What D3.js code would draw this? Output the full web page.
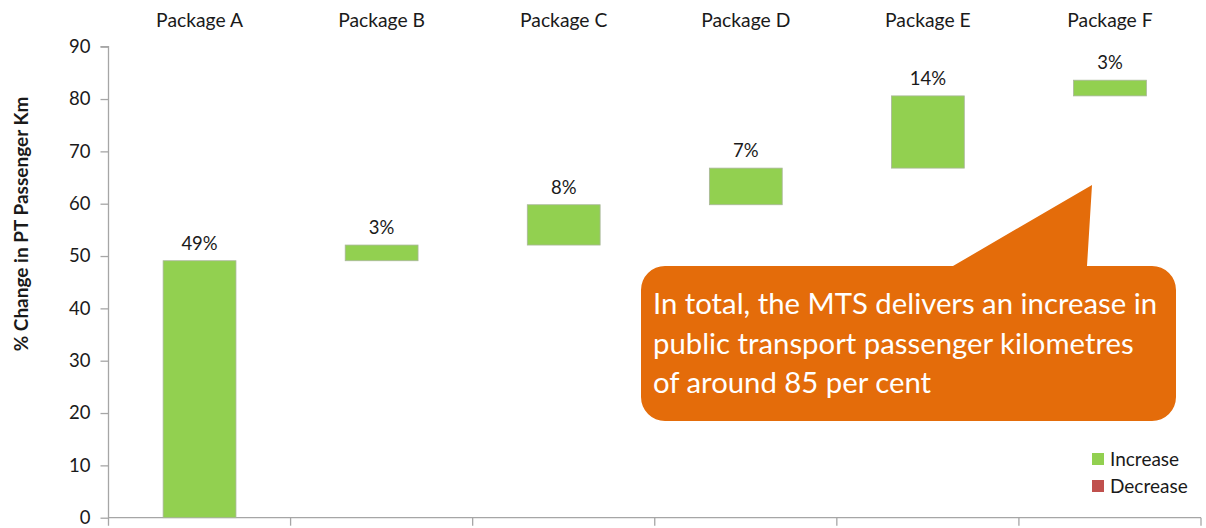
<!DOCTYPE html>
<html>
<head>
<meta charset="utf-8">
<script src="https://cdn.jsdelivr.net/npm/d3@7"></script>
<style>
  html, body { margin: 0; padding: 0; background: #fff; }
  svg { display: block; }
  text { font-family: Lato, "Open Sans", sans-serif; fill: #1a1a1a; }
</style>
</head>
<body>
<svg id="chart" width="1206" height="528"></svg>
<script>
// Waterfall: contribution of each package to the change in PT passenger km
const categories = ["Package A", "Package B", "Package C", "Package D", "Package E", "Package F"];
const increments = [49.1, 3.0, 7.7, 7.0, 13.8, 3.0];
const yTickValues = [0, 10, 20, 30, 40, 50, 60, 70, 80, 90];
const legendLabels = ["Increase", "Decrease"];
const legendColors = ["#92D050", "#C0504D"];
const axisTitle = "% Change in PT Passenger Km";
const calloutLines = [
  "In total, the MTS delivers an increase in",
  "public transport passenger kilometres",
  "of around 85 per cent"
];

const svg = d3.select("#chart");
const plot = { left: 108.5, right: 1201, top: 46.7, bottom: 517.7 };

const x = d3.scaleBand()
  .domain(categories)
  .range([plot.left, plot.right])
  .paddingInner(0.6)
  .paddingOuter(0.3);

const y = d3.scaleLinear()
  .domain([0, 90])
  .range([plot.bottom, plot.top]);

// running totals: each bar spans from previous total to new total
const ends = Array.from(d3.cumsum(increments));
const bars = categories.map((c, i) => ({
  cat: c,
  delta: increments[i],
  start: i === 0 ? 0 : ends[i - 1],
  end: ends[i]
}));

const axisColor = "#a6a6a6";

// y axis
const yAxis = svg.append("g")
  .attr("transform", `translate(${plot.left},0)`)
  .call(d3.axisLeft(y).tickValues(yTickValues).tickSize(8).tickPadding(10).tickFormat(d3.format("d")));
yAxis.select(".domain").attr("stroke", axisColor).attr("stroke-width", 1.3)
  .attr("d", `M0,${plot.bottom + 8}V${plot.top}H-8`);
yAxis.selectAll(".tick line").attr("stroke", axisColor).attr("stroke-width", 1.3);
yAxis.selectAll(".tick text")
  .style("font-size", "18.5px").attr("fill", "#1a1a1a");

// x axis line with ticks between categories
const step = x.step();
const boundaries = d3.range(categories.length + 1).map(i => plot.left + i * step);
svg.append("line")
  .attr("x1", plot.left).attr("x2", plot.right)
  .attr("y1", y(0)).attr("y2", y(0))
  .attr("stroke", axisColor).attr("stroke-width", 1.3);
svg.append("g").selectAll("line")
  .data(boundaries.slice(1))
  .join("line")
  .attr("x1", d => d).attr("x2", d => d)
  .attr("y1", y(0)).attr("y2", y(0) + 8)
  .attr("stroke", axisColor).attr("stroke-width", 1.3);

// category labels along the top
svg.append("g").selectAll("text")
  .data(categories)
  .join("text")
  .attr("x", d => x(d) + x.bandwidth() / 2)
  .attr("y", 27)
  .attr("text-anchor", "middle")
  .style("font-size", "19.3px")
  .text(d => d);

// y axis title
svg.append("text")
  .attr("transform", "translate(28,224) rotate(-90)")
  .attr("text-anchor", "middle")
  .style("font-size", "19px")
  .style("font-weight", "bold")
  .text(axisTitle);

// bars
svg.append("g").selectAll("rect")
  .data(bars)
  .join("rect")
  .attr("x", d => x(d.cat))
  .attr("width", x.bandwidth())
  .attr("y", d => y(Math.max(d.start, d.end)))
  .attr("height", d => Math.abs(y(d.start) - y(d.end)))
  .attr("fill", d => d.delta >= 0 ? legendColors[0] : legendColors[1])
  .attr("stroke", "#a9b69a")
  .attr("stroke-width", 0.8);

// value labels
svg.append("g").selectAll("text")
  .data(bars)
  .join("text")
  .attr("x", d => x(d.cat) + x.bandwidth() / 2)
  .attr("y", d => y(Math.max(d.start, d.end)) - 11)
  .attr("text-anchor", "middle")
  .style("font-size", "18.5px")
  .text(d => Math.round(d.delta) + "%");

// callout bubble
const cb = { x0: 641, y0: 266, x1: 1176, y1: 421, r: 24 };
const ptr = { baseL: 953, baseR: 1087, tipX: 1092, tipY: 185 };
const calloutPath = [
  `M${cb.x0 + cb.r},${cb.y0}`,
  `L${ptr.baseL},${cb.y0}`,
  `L${ptr.tipX},${ptr.tipY}`,
  `L${ptr.baseR},${cb.y0}`,
  `L${cb.x1 - cb.r},${cb.y0}`,
  `A${cb.r},${cb.r} 0 0 1 ${cb.x1},${cb.y0 + cb.r}`,
  `L${cb.x1},${cb.y1 - cb.r}`,
  `A${cb.r},${cb.r} 0 0 1 ${cb.x1 - cb.r},${cb.y1}`,
  `L${cb.x0 + cb.r},${cb.y1}`,
  `A${cb.r},${cb.r} 0 0 1 ${cb.x0},${cb.y1 - cb.r}`,
  `L${cb.x0},${cb.y0 + cb.r}`,
  `A${cb.r},${cb.r} 0 0 1 ${cb.x0 + cb.r},${cb.y0}`,
  "Z"
].join(" ");
svg.append("path").attr("d", calloutPath).attr("fill", "#E46C0A");

svg.append("g").selectAll("text")
  .data(calloutLines)
  .join("text")
  .attr("x", 653)
  .attr("y", (d, i) => 314 + i * 39.5)
  .style("font-size", "29.3px")
  .style("fill", "#ffffff")
  .text(d => d);

// legend
const legend = svg.append("g").selectAll("g")
  .data(legendLabels)
  .join("g")
  .attr("transform", (d, i) => `translate(1092,${453 + i * 27})`);
legend.append("rect")
  .attr("width", 12).attr("height", 12)
  .attr("fill", (d, i) => legendColors[i]);
legend.append("text")
  .attr("x", 18).attr("y", 13)
  .style("font-size", "19px")
  .text(d => d);
</script>
</body>
</html>
